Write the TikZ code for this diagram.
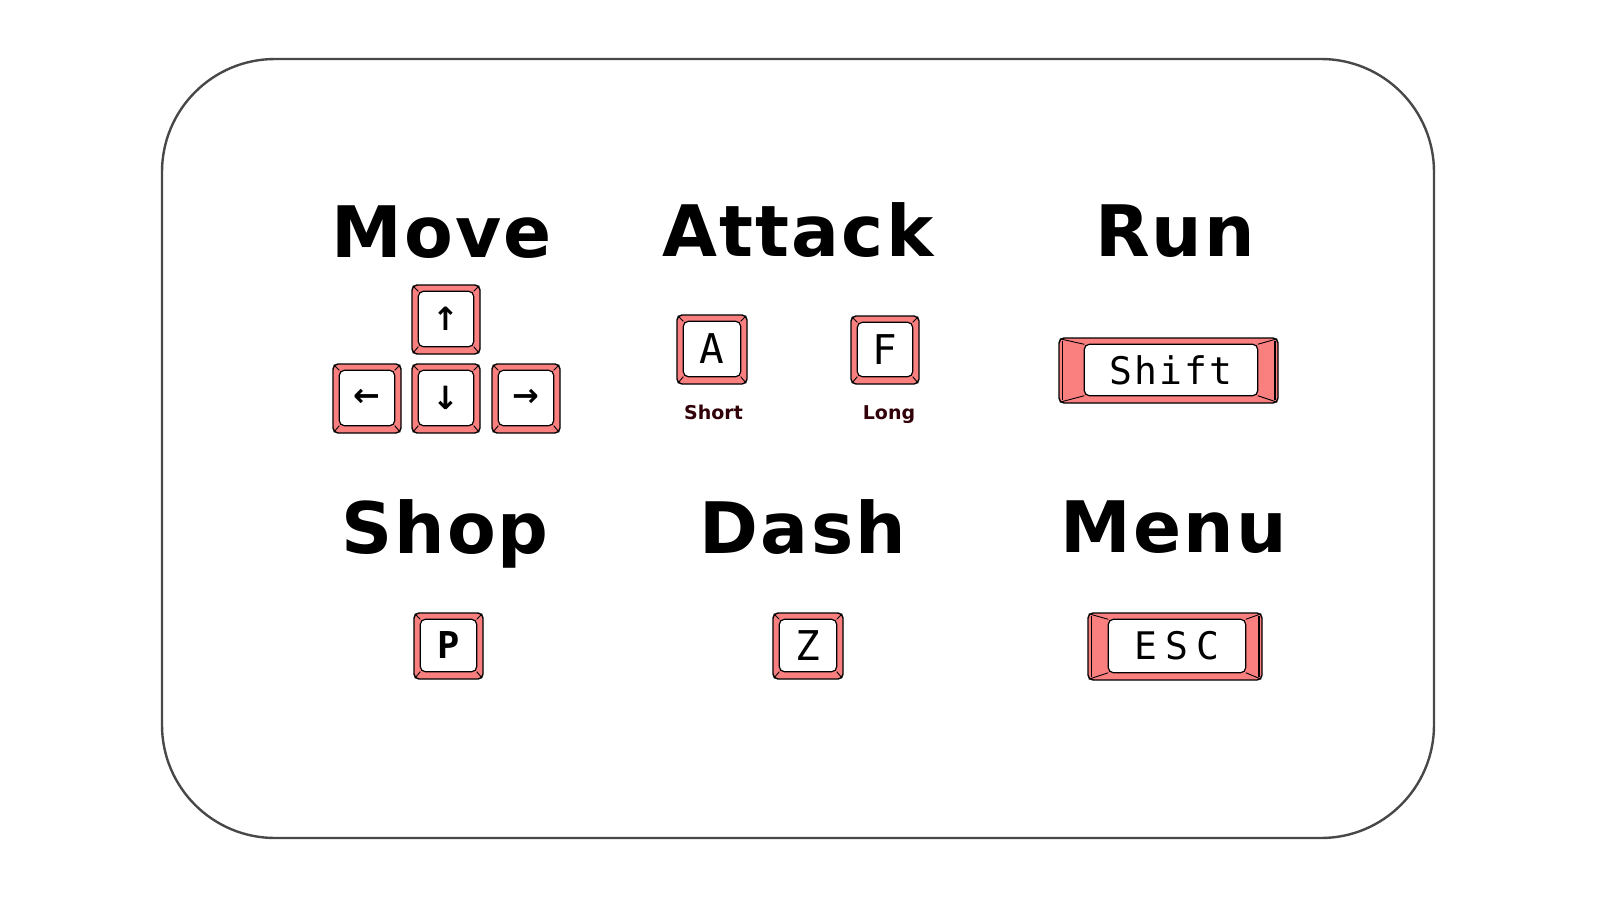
\documentclass[tikz,border=0pt]{standalone}
\usepackage{fontspec}
\setmainfont{DejaVu Sans}
\newfontfamily\titlefont[LetterSpace=3]{DejaVu Sans}
\newfontfamily\keyfont[LetterSpace=6]{DejaVu Sans Mono}
\newfontfamily\keyfontwide[LetterSpace=22]{DejaVu Sans Mono}
\newfontfamily\arrowfont{DejaVu Sans}
\usetikzlibrary{calc}
\definecolor{keypink}{RGB}{250,128,128}
\definecolor{framegray}{RGB}{72,72,72}
\definecolor{labeldark}{RGB}{50,0,8}
\tikzset{
  keyout/.style={draw=black, line width=1.4pt, fill=keypink, rounded corners=5pt, inner sep=0pt},
  keyin/.style={draw=black, line width=1.2pt, fill=white, rounded corners=5pt},
  bevelline/.style={draw=black, line width=0.9pt},
  sideedge/.style={draw=black, line width=1.6pt},
  keylabel/.style={inner sep=0pt},
  titletext/.style={anchor=base, inner sep=0pt, font=\titlefont\bfseries\fontsize{71}{71}\selectfont},
  sublabel/.style={anchor=base, inner sep=0pt, text=labeldark, font=\bfseries\fontsize{19}{19}\selectfont},
  frame/.style={draw=framegray, line width=2.4pt, rounded corners=113pt, inner sep=0pt}
}
% name, cx, cy, w, h, left bevel, right bevel, label
\newcommand{\kcap}[8]{%
  \node[keyout, minimum width=#4pt, minimum height=#5pt] (#1) at (#2,#3) {};
  \coordinate (#1-inw) at ($(#1.north west)+(#6pt,-7pt)$);
  \coordinate (#1-ine) at ($(#1.north east)+(-#7pt,-7pt)$);
  \coordinate (#1-ise) at ($(#1.south east)+(-#7pt,8pt)$);
  \coordinate (#1-isw) at ($(#1.south west)+(#6pt,8pt)$);
  \draw[bevelline] ($(#1.north west)+(1.5pt,-1.5pt)$) -- (#1-inw)
    ($(#1.north east)+(-1.5pt,-1.5pt)$) -- (#1-ine)
    ($(#1.south east)+(-1.5pt,1.5pt)$) -- (#1-ise)
    ($(#1.south west)+(1.5pt,1.5pt)$) -- (#1-isw);
  \draw[keyin] (#1-isw) rectangle (#1-ine);
  \node[keylabel] (#1-t) at ($(#1-inw)!0.5!(#1-ise)$) {#8};
}
\newcommand{\widesides}[1]{%
  \draw[sideedge] ($(#1.north west)+(4pt,-3.5pt)$) -- ($(#1.south west)+(4pt,3.5pt)$);
  \draw[sideedge] ($(#1.north east)+(-4pt,-3.5pt)$) -- ($(#1.south east)+(-4pt,3.5pt)$);
}
\newcommand{\single}{\keyfont\fontsize{41}{41}\selectfont}
\newcommand{\singlebold}{\keyfont\bfseries\fontsize{37}{37}\selectfont}
\newcommand{\arrowsz}{\arrowfont\bfseries\fontsize{32}{32}\selectfont}
\begin{document}
\begin{tikzpicture}[x=1pt,y=-1pt]
  \fill[white] (0,0) rectangle (1598,899);
  \useasboundingbox (0,0) rectangle (1598,899);
  \node[frame, minimum width=1272pt, minimum height=779pt] (box) at (798,448.5) {};

  % titles
  \node[titletext] (move)   at (442,257)  {Move};
  \node[titletext] (attack) at (798,256)  {Attack};
  \node[titletext] (run)    at (1175,256) {Run};
  \node[titletext] (shop)   at (445,553)  {Shop};
  \node[titletext] (dash)   at (803,553)  {Dash};
  \node[titletext] (menu)   at (1174,552) {Menu};

  % move keys
  \kcap{up}{446}{319.5}{68}{69}{7}{7}{\arrowsz ↑}
  \kcap{left}{367}{398.5}{68}{69}{7}{7}{\arrowsz ←}
  \kcap{down}{446}{398.5}{68}{69}{7}{7}{\arrowsz ↓}
  \kcap{right}{526}{398.5}{68}{69}{7}{7}{\arrowsz →}

  % attack keys
  \kcap{akey}{712}{349.5}{70}{69}{7}{7}{\single A}
  \kcap{fkey}{885}{350}{68}{68}{7}{7}{\single F}
  \node[sublabel] (short) at (713.5,419) {Short};
  \node[sublabel] (long)  at (889,419)   {Long};

  % run key
  \kcap{shift}{1168.5}{370.5}{219}{65}{26}{21}{\keyfont\fontsize{38}{38}\selectfont Shift}
  \widesides{shift}

  % shop, dash, menu keys
  \kcap{pkey}{448.5}{646}{69}{66}{7}{7}{\singlebold P}
  \kcap{zkey}{808}{646}{70}{66}{7}{7}{\single Z}
  \kcap{esc}{1175}{646.5}{174}{67}{21}{17}{\keyfontwide\fontsize{38}{38}\selectfont ESC}
  \widesides{esc}
\end{tikzpicture}
\end{document}
